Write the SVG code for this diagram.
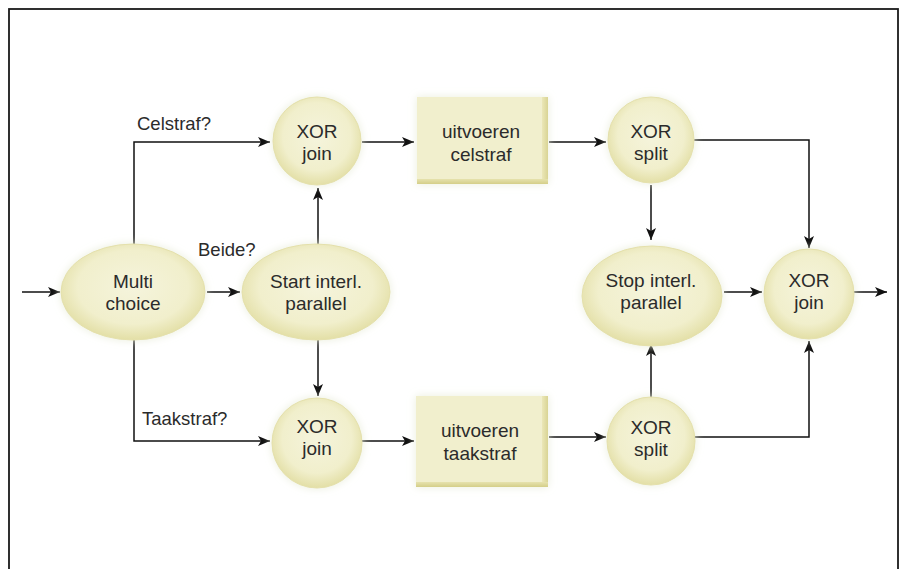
<svg xmlns="http://www.w3.org/2000/svg" width="907" height="569" viewBox="0 0 907 569">
  <style>
    .frame { fill: #ffffff; stroke: #1a1a1a; stroke-width: 1.8; }
    .node { fill: url(#nodeFill); stroke: #e4e0ab; stroke-width: 1; filter: url(#soft); }
    .task { fill: #f1efcd; filter: url(#soft); }
    .edge-r { fill: url(#edgeR); }
    .edge-b { fill: url(#edgeB); }
    .label { font-family: "Liberation Sans", Arial, sans-serif; font-size: 19px; fill: #2b2b2b; text-anchor: middle; }
    .cond { font-family: "Liberation Sans", Arial, sans-serif; font-size: 18.5px; fill: #2b2b2b; }
    .wire { fill: none; stroke: #111; stroke-width: 1.5; marker-end: url(#arrow); }
  </style>
  <defs>
    <radialGradient id="nodeFill" cx="50%" cy="45%" r="55%">
      <stop offset="0" stop-color="#f5f4dc"/>
      <stop offset="0.7" stop-color="#f1efcc"/>
      <stop offset="1" stop-color="#e3dfa6"/>
    </radialGradient>
    <linearGradient id="edgeR" x1="0" y1="0" x2="1" y2="0">
      <stop offset="0" stop-color="#ebe7b8"/>
      <stop offset="1" stop-color="#d9d494"/>
    </linearGradient>
    <linearGradient id="edgeB" x1="0" y1="0" x2="0" y2="1">
      <stop offset="0" stop-color="#e6e2ad"/>
      <stop offset="1" stop-color="#d4ce88"/>
    </linearGradient>
    <filter id="soft" x="-20%" y="-20%" width="140%" height="140%">
      <feGaussianBlur in="SourceAlpha" stdDeviation="4" result="b"/>
      <feFlood flood-color="#e8ecd8" flood-opacity="0.9"/>
      <feComposite in2="b" operator="in" result="halo"/>
      <feMerge>
        <feMergeNode in="halo"/>
        <feMergeNode in="SourceGraphic"/>
      </feMerge>
    </filter>
    <marker id="arrow" viewBox="0 0 12 10" refX="12" refY="5" markerWidth="12" markerHeight="10" markerUnits="userSpaceOnUse" orient="auto">
      <path d="M0,0 L12,5 L0,10 L3,5 z" fill="#111"/>
    </marker>
  </defs>

  <rect class="frame" x="9" y="9" width="889" height="570"/>

  <g id="connectors">
    <path class="wire" d="M22,292 L60,292"/>
    <path class="wire" d="M207,292 L240,292"/>
    <path class="wire" d="M134,245 L134,142 L270,142"/>
    <path class="wire" d="M134,340 L134,441 L270,441"/>
    <path class="wire" d="M318,245 L318,188"/>
    <path class="wire" d="M318,340 L318,396"/>
    <path class="wire" d="M362,142 L414,142"/>
    <path class="wire" d="M549,142 L606,142"/>
    <path class="wire" d="M651,185 L651,240"/>
    <path class="wire" d="M694,140 L809,140 L809,248"/>
    <path class="wire" d="M724,292 L762,292"/>
    <path class="wire" d="M853,292 L887,292"/>
    <path class="wire" d="M362,441 L414,441"/>
    <path class="wire" d="M549,437 L606,437"/>
    <path class="wire" d="M651,398 L651,344"/>
    <path class="wire" d="M694,437 L809,437 L809,341"/>
  </g>

  <g id="labels">
    <text class="cond" x="137" y="130">Celstraf?</text>
    <text class="cond" x="198" y="256">Beide?</text>
    <text class="cond" x="142" y="425">Taakstraf?</text>
  </g>

  <g id="multi-choice">
    <ellipse class="node" cx="133" cy="292" rx="72" ry="48"/>
    <text class="label" x="133" y="288">Multi</text>
    <text class="label" x="133" y="310">choice</text>
  </g>

  <g id="start-parallel">
    <ellipse class="node" cx="316" cy="292" rx="74" ry="48"/>
    <text class="label" x="316" y="288">Start interl.</text>
    <text class="label" x="316" y="310">parallel</text>
  </g>

  <g id="xor-join-top">
    <circle class="node" cx="317" cy="141" r="44"/>
    <text class="label" x="317" y="138">XOR</text>
    <text class="label" x="317" y="160">join</text>
  </g>

  <g id="task-celstraf">
    <rect class="task" x="417" y="97" width="131" height="87"/>
    <rect class="edge-r" x="542" y="97" width="6" height="87"/>
    <rect class="edge-b" x="417" y="179" width="131" height="5"/>
    <text class="label" x="481" y="138">uitvoeren</text>
    <text class="label" x="481" y="161">celstraf</text>
  </g>

  <g id="xor-split-top">
    <circle class="node" cx="651" cy="140" r="43"/>
    <text class="label" x="651" y="138">XOR</text>
    <text class="label" x="651" y="160">split</text>
  </g>

  <g id="stop-parallel">
    <ellipse class="node" cx="652" cy="296" rx="70" ry="50"/>
    <text class="label" x="651" y="287">Stop interl.</text>
    <text class="label" x="651" y="309">parallel</text>
  </g>

  <g id="xor-join-right">
    <circle class="node" cx="809" cy="294" r="45"/>
    <text class="label" x="809" y="287">XOR</text>
    <text class="label" x="809" y="309">join</text>
  </g>

  <g id="xor-join-bottom">
    <circle class="node" cx="317" cy="443" r="45"/>
    <text class="label" x="317" y="433">XOR</text>
    <text class="label" x="317" y="455">join</text>
  </g>

  <g id="task-taakstraf">
    <rect class="task" x="416" y="396" width="132" height="91"/>
    <rect class="edge-r" x="542" y="396" width="6" height="91"/>
    <rect class="edge-b" x="416" y="482" width="132" height="5"/>
    <text class="label" x="480" y="437">uitvoeren</text>
    <text class="label" x="480" y="460">taakstraf</text>
  </g>

  <g id="xor-split-bottom">
    <circle class="node" cx="651" cy="441" r="44"/>
    <text class="label" x="651" y="434">XOR</text>
    <text class="label" x="651" y="456">split</text>
  </g>
</svg>
